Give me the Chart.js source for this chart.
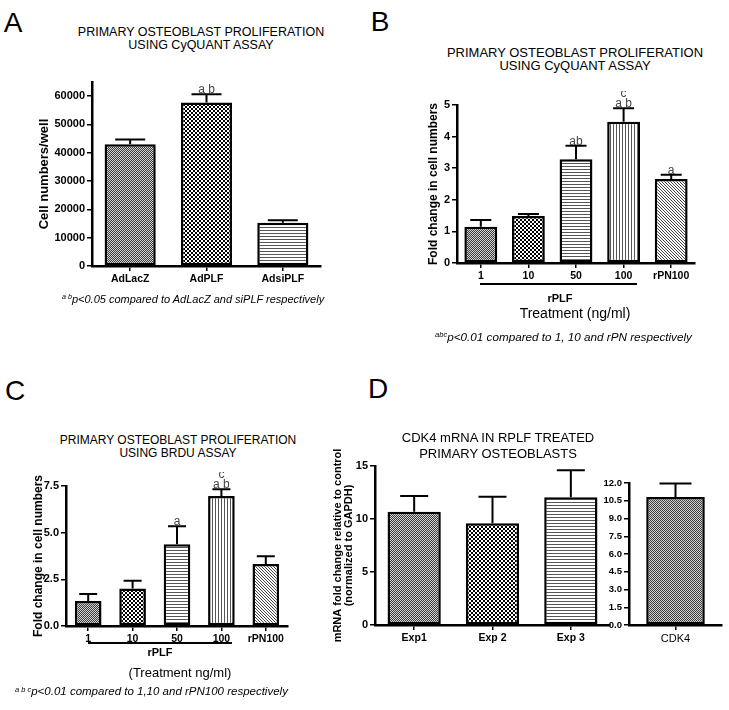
<!DOCTYPE html>
<html>
<head>
<meta charset="utf-8">
<script src="https://cdn.jsdelivr.net/npm/chart.js@4.4.0/dist/chart.umd.min.js"></script>
<style>
  html, body { margin: 0; padding: 0; background: #fff; }
  body { width: 729px; height: 710px; position: relative; overflow: hidden;
         font-family: 'Liberation Sans', Arial, sans-serif; color: #000; }
  canvas { position: absolute; }
  .t { position: absolute; white-space: nowrap; line-height: 1; }
  .t sup { font-size: 0.65em; vertical-align: 0.5em; line-height: 0; }
  .rule { position: absolute; height: 2px; background: #000; }
</style>
</head>
<body>
<script>
// --- data ---
const aLabels = ['AdLacZ', 'AdPLF', 'AdsiPLF'];
const aValues = [43000, 57800, 15300];
const aErrors = [1700, 2900, 900];
const aSig = [[], ['a b'], []];
const aTicks = [0, 10000, 20000, 30000, 40000, 50000, 60000];

const bLabels = ['1', '10', '50', '100', 'rPN100'];
const bValues = [1.15, 1.49, 3.28, 4.47, 2.66];
const bErrors = [0.21, 0.06, 0.43, 0.43, 0.13];
const bSig = [[], [], ['ab'], ['c', 'a b'], ['a']];
const bTicks = [0, 1, 2, 3, 4, 5];

const cLabels = ['1', '10', '50', '100', 'rPN100'];
const cValues = [1.34, 2.01, 4.38, 6.97, 3.32];
const cErrors = [0.37, 0.41, 0.97, 0.36, 0.42];
const cSig = [[], [], ['a'], ['c', 'a b'], []];
const cTicks = [0, 2.5, 5, 7.5];

const dLabels = ['Exp1', 'Exp 2', 'Exp 3'];
const dValues = [10.69, 9.59, 12.05];
const dErrors = [1.48, 2.51, 2.55];
const dTicks = [0, 5, 10, 15];

const cdkLabels = ['CDK4'];
const cdkValues = [10.82];
const cdkErrors = [1.13];
const cdkTicks = [0, 1.5, 3, 4.5, 6, 7.5, 9, 10.5, 12];

const FONT = "'Liberation Sans', Arial, sans-serif";

// fill patterns like the GraphPad ones
function makePattern(kind) {
  const c = document.createElement('canvas');
  const g = c.getContext('2d');
  if (kind === 'fine') {
    c.width = c.height = 2;
    g.fillStyle = '#d4d4d4'; g.fillRect(0, 0, 2, 2);
    g.fillStyle = '#3a3a3a'; g.fillRect(0, 0, 1, 1); g.fillRect(1, 1, 1, 1);
  } else if (kind === 'check') {
    c.width = c.height = 4;
    g.fillStyle = '#fff'; g.fillRect(0, 0, 4, 4);
    g.fillStyle = '#000'; g.fillRect(0, 0, 2, 2); g.fillRect(2, 2, 2, 2);
  } else if (kind === 'hlines') {
    c.width = 1; c.height = 3;
    g.fillStyle = '#fff'; g.fillRect(0, 0, 1, 3);
    g.fillStyle = '#555'; g.fillRect(0, 0, 1, 1);
  } else if (kind === 'vlines') {
    c.width = 3; c.height = 1;
    g.fillStyle = '#fff'; g.fillRect(0, 0, 3, 1);
    g.fillStyle = '#555'; g.fillRect(0, 0, 1, 1);
  } else {
    c.width = c.height = 3;
    g.fillStyle = '#fff'; g.fillRect(0, 0, 3, 3);
    g.fillStyle = '#444';
    for (let i = 0; i < 3; i++) g.fillRect(i, i, 1, 1);
  }
  return g.createPattern(c, 'repeat');
}
const P = {
  fine: makePattern('fine'), check: makePattern('check'),
  hlines: makePattern('hlines'), vlines: makePattern('vlines'), diag: makePattern('diag')
};

// error bars (upper half only) and significance letters
const errorBars = {
  id: 'errbars',
  afterDatasetsDraw(chart, args, opts) {
    const ctx = chart.ctx;
    const ys = chart.scales.y;
    const vals = chart.data.datasets[0].data;
    ctx.save();
    ctx.strokeStyle = '#000';
    ctx.lineWidth = 2;
    chart.getDatasetMeta(0).data.forEach((bar, i) => {
      const top = ys.getPixelForValue(vals[i] + opts.errors[i]);
      const half = opts.cap / 2;
      ctx.beginPath();
      ctx.moveTo(bar.x, bar.y);
      ctx.lineTo(bar.x, top);
      ctx.moveTo(bar.x - half, top);
      ctx.lineTo(bar.x + half, top);
      ctx.stroke();
      const lines = (opts.sig && opts.sig[i]) || [];
      ctx.fillStyle = '#444';
      ctx.font = '12px ' + FONT;
      ctx.textAlign = 'center';
      ctx.textBaseline = 'alphabetic';
      lines.slice().reverse().forEach((s, k) => ctx.fillText(s, bar.x, top - 1 - k * 10));
    });
    ctx.restore();
  }
};

function barPanel(o) {
  const pad = { left: 2, top: o.padTop || 14, right: 4, bottom: 2 };
  const xH = 30;
  let yW = o.yW;
  if (o.yTitle) {
    const lh = o.yTitleSize * o.yTitleLH;
    yW = o.area.l - (o.yTitleX - lh / 2);
  }
  const cx = Math.round(o.area.l - yW - pad.left);
  yW = o.area.l - pad.left - cx;
  const cy = o.area.t - pad.top;
  const cw = o.area.r + pad.right - cx;
  const ch = o.area.b + xH + pad.bottom - cy;
  const cv = document.createElement('canvas');
  cv.width = cw; cv.height = ch;
  cv.style.left = cx + 'px'; cv.style.top = cy + 'px';
  cv.style.width = cw + 'px'; cv.style.height = ch + 'px';
  document.body.appendChild(cv);

  new Chart(cv.getContext('2d'), {
    type: 'bar',
    data: {
      labels: o.labels,
      datasets: [{
        data: o.values,
        backgroundColor: o.fills,
        borderColor: '#000',
        borderWidth: 2.5,
        borderSkipped: false,
        barPercentage: o.barPct,
        categoryPercentage: 1
      }]
    },
    options: {
      responsive: false,
      animation: false,
      devicePixelRatio: 1,
      layout: { padding: pad },
      plugins: {
        legend: { display: false },
        tooltip: { enabled: false },
        errbars: { errors: o.errors, sig: o.sig, cap: o.cap }
      },
      scales: {
        x: {
          offset: true,
          afterFit: s => { s.height = xH; },
          border: { display: true, color: '#000', width: 2.5 },
          grid: { display: true, drawOnChartArea: false, drawTicks: true, tickLength: 5,
                  offset: false, color: '#000', lineWidth: 1.5 },
          ticks: { color: '#000', padding: 2, maxRotation: 0,
                   font: { family: FONT, size: o.xFontSize || 10.5, weight: o.xWeight || 'bold' } }
        },
        y: {
          min: 0,
          max: o.max,
          afterFit: s => { s.width = yW; },
          afterBuildTicks: s => { s.ticks = o.ticks.map(v => ({ value: v })); },
          border: { display: true, color: '#000', width: 2.5 },
          grid: { display: true, drawOnChartArea: false, drawTicks: true, tickLength: 5,
                  color: '#000', lineWidth: 1.5 },
          ticks: { color: '#000', padding: 2,
                   callback: v => o.decimals ? Number(v).toFixed(o.decimals) : String(v),
                   font: { family: FONT, size: o.yFontSize || 11, weight: 'bold' } },
          title: {
            display: !!o.yTitle,
            text: o.yTitle,
            color: '#000',
            padding: 0,
            font: { family: FONT, size: o.yTitleSize || 12, weight: 'bold', lineHeight: o.yTitleLH || 1.2 }
          }
        }
      }
    },
    plugins: [errorBars]
  });
}

function label(html, x, y, css, align) {
  const d = document.createElement('div');
  d.className = 't';
  d.innerHTML = html;
  d.style.cssText += css;
  d.style.left = x + 'px';
  d.style.top = y + 'px';
  d.style.transform = align === 'left' ? 'translate(0,-50%)' : 'translate(-50%,-50%)';
  document.body.appendChild(d);
}
function rule(x1, x2, y) {
  const d = document.createElement('div');
  d.className = 'rule';
  d.style.left = x1 + 'px'; d.style.width = (x2 - x1) + 'px'; d.style.top = (y - 1) + 'px';
  document.body.appendChild(d);
}

// ---- panel A ----
barPanel({
  area: { l: 92, t: 82, r: 321, b: 266 }, max: 65000, ticks: aTicks,
  labels: aLabels, values: aValues, errors: aErrors, sig: aSig,
  fills: [P.fine, P.check, P.hlines], barPct: 0.67, cap: 30,
  yTitle: 'Cell numbers/well', yTitleX: 45, yTitleSize: 13, yTitleLH: 1.2
});
label('A', 13, 23, 'font-size:28px;');
label('PRIMARY OSTEOBLAST PROLIFERATION', 201, 32, 'font-size:12.5px;');
label('USING CyQUANT ASSAY', 201, 45, 'font-size:12.5px;');
label('<sup>a b</sup>p&lt;0.05 compared to AdLacZ and siPLF respectively', 62, 299,
      'font-size:11px;font-style:italic;', 'left');

// ---- panel B ----
barPanel({
  area: { l: 457, t: 105, r: 695, b: 263 }, max: 5, ticks: bTicks,
  labels: bLabels, values: bValues, errors: bErrors, sig: bSig,
  fills: [P.fine, P.check, P.hlines, P.vlines, P.diag], barPct: 0.69, cap: 21,
  yTitle: 'Fold change in cell numbers', yTitleX: 433, yTitleSize: 12, yTitleLH: 1.2
});
label('B', 380, 22, 'font-size:28px;');
label('PRIMARY OSTEOBLAST PROLIFERATION', 575, 52, 'font-size:13px;');
label('USING CyQUANT ASSAY', 575, 65, 'font-size:13px;');
rule(480, 637, 284);
label('rPLF', 560, 298, 'font-size:11px;font-weight:bold;');
label('Treatment (ng/ml)', 575, 313, 'font-size:14px;');
label('<sup>abc</sup>p&lt;0.01 compared to 1, 10 and rPN respectively', 435, 337,
      'font-size:11.7px;font-style:italic;', 'left');

// ---- panel C ----
barPanel({
  area: { l: 66, t: 486, r: 288, b: 626 }, max: 7.5, ticks: cTicks, decimals: 1,
  labels: cLabels, values: cValues, errors: cErrors, sig: cSig,
  fills: [P.fine, P.check, P.hlines, P.vlines, P.diag], barPct: 0.6, cap: 18,
  yTitle: 'Fold change in cell numbers', yTitleX: 38, yTitleSize: 12, yTitleLH: 1.2
});
label('C', 15, 391, 'font-size:28px;');
label('PRIMARY OSTEOBLAST PROLIFERATION', 178, 440, 'font-size:12px;');
label('USING BRDU ASSAY', 178, 453, 'font-size:12px;');
rule(88, 232, 643);
label('rPLF', 160, 652, 'font-size:11px;font-weight:bold;');
label('(Treatment ng/ml)', 180, 672, 'font-size:13px;');
label('<sup>a b c</sup>p&lt;0.01 compared to 1,10 and rPN100 respectively', 15, 692,
      'font-size:11.5px;font-style:italic;', 'left');

// ---- panel D ----
barPanel({
  area: { l: 375, t: 466, r: 610, b: 625 }, max: 15, ticks: dTicks, padTop: 30,
  labels: dLabels, values: dValues, errors: dErrors,
  fills: [P.fine, P.check, P.hlines], barPct: 0.68, cap: 28,
  yTitle: ['mRNA fold change relative to control', '(normalized to GAPDH)'],
  yTitleX: 338, yTitleSize: 11, yTitleLH: 0.95
});
barPanel({
  area: { l: 629, t: 483, r: 722, b: 625 }, max: 12, ticks: cdkTicks, decimals: 1,
  labels: cdkLabels, values: cdkValues, errors: cdkErrors,
  fills: [P.fine], barPct: 0.63, cap: 32, yW: 26, yFontSize: 9.5,
  xFontSize: 11, xWeight: 'normal'
});
label('D', 378, 389, 'font-size:28px;');
label('CDK4 mRNA IN RPLF TREATED', 498, 437, 'font-size:13px;');
label('PRIMARY OSTEOBLASTS', 498, 453, 'font-size:13px;');
</script>
</body>
</html>
